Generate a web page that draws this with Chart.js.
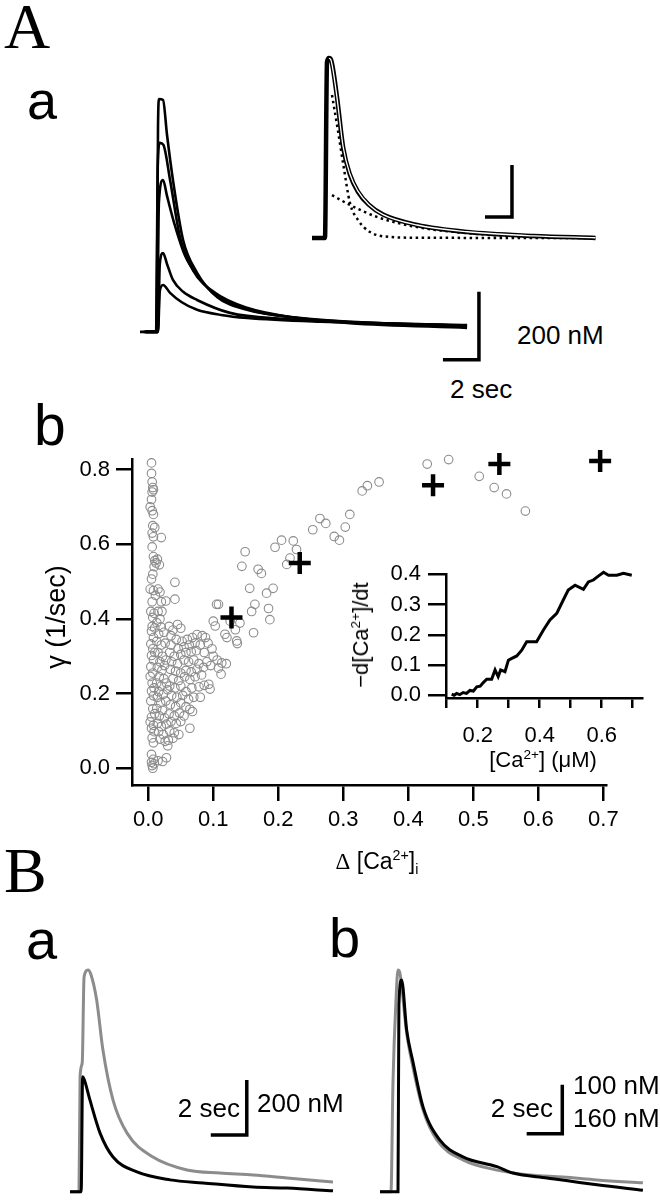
<!DOCTYPE html>
<html>
<head>
<meta charset="utf-8">
<script src="https://cdn.jsdelivr.net/npm/chart.js@4.4.1/dist/chart.umd.min.js"></script>
<style>
  html, body { margin: 0; padding: 0; background: #fff; }
  #figure { position: relative; width: 660px; height: 1200px; overflow: hidden;
            font-family: "Liberation Sans", Arial, sans-serif; color: #000; }
  #figure canvas { position: absolute; }
  .lbl { position: absolute; line-height: 1; white-space: nowrap; }
  .serif { font-family: "Liberation Serif", "Times New Roman", serif; }
  .rot { transform-origin: center; transform: translate(-50%, -50%) rotate(-90deg); }
  .ctr { transform: translate(-50%, -50%); }
  sup, sub { font-size: 0.62em; line-height: 0; }
</style>
</head>
<body>
<div id="figure">
  <canvas id="cvMain" width="360" height="290" style="left:131px;top:80px"></canvas>
  <canvas id="cvInsetA" width="310" height="230" style="left:300px;top:30px"></canvas>
  <canvas id="cvScatter" width="660" height="440" style="left:0px;top:440px"></canvas>
  <canvas id="cvInsetB" width="330" height="240" style="left:330px;top:540px"></canvas>
  <canvas id="cvBa" width="300" height="250" style="left:60px;top:950px"></canvas>
  <canvas id="cvBb" width="290" height="250" style="left:370px;top:950px"></canvas>

  <div class="lbl serif" style="left:4px;top:-5px;font-size:64px">A</div>
  <div class="lbl" style="left:27px;top:73px;font-size:54px">a</div>
  <div class="lbl" style="left:517px;top:322px;font-size:26px">200 nM</div>
  <div class="lbl" style="left:450px;top:376px;font-size:26px">2 sec</div>

  <div class="lbl" style="left:34px;top:397px;font-size:57px">b</div>
  <div class="lbl rot" style="left:56px;top:617px;font-size:27px">γ (1/sec)</div>
  <div class="lbl ctr" style="left:377px;top:861px;font-size:23px"><span class="serif">Δ</span> [Ca<sup>2+</sup>]<sub>i</sub></div>
  <div class="lbl rot" style="left:361px;top:635px;font-size:22px">−d[Ca<sup>2+</sup>]/dt</div>
  <div class="lbl ctr" style="left:543px;top:760px;font-size:22px">[Ca<sup>2+</sup>] (μM)</div>

  <div class="lbl serif" style="left:4px;top:839px;font-size:64px">B</div>
  <div class="lbl" style="left:26px;top:912px;font-size:56px">a</div>
  <div class="lbl" style="left:329px;top:910px;font-size:56px">b</div>
  <div class="lbl" style="right:420px;top:1095px;font-size:26px">2 sec</div>
  <div class="lbl" style="left:257px;top:1090px;font-size:26px">200 nM</div>
  <div class="lbl" style="right:107px;top:1095px;font-size:26px">2 sec</div>
  <div class="lbl" style="left:573px;top:1072px;font-size:26px">100 nM</div>
  <div class="lbl" style="left:573px;top:1105px;font-size:26px">160 nM</div>
</div>

<script>
// ---- A(a): [Ca2+]i transients, time (s) vs concentration (nM)
const traceA1 = [[0,0],[0.5,0],[0.92,0],[1.0,600],[1.06,685],[1.28,682],[1.5,580],[1.83,447],[2.39,271],[3.17,174],[4.28,103],[5.94,65],[8.72,41],[11.67,29],[14.4,21],[18.17,15]];
const traceA2 = [[0.2,0],[0.9,0],[0.98,480],[1.1,556],[1.3,550],[1.67,447],[2.22,279],[2.94,182],[4.17,115],[5.94,71],[8.72,41],[11.67,26],[18.17,12]];
const traceA3 = [[0.3,0],[0.95,0],[1.05,380],[1.28,447],[1.5,400],[1.9,320],[2.5,225],[3.3,158],[4.3,105],[6,66],[8.7,42],[11.7,30],[18.17,18]];
const traceA4 = [[0.3,0],[1.0,0],[1.1,200],[1.28,232],[1.5,200],[1.83,153],[2.4,118],[3.17,94],[5,56],[8,38],[12,28],[18.17,18]];
const traceA5 = [[0.3,0],[1.0,0],[1.1,120],[1.28,138],[1.67,115],[2.3,88],[3.17,65],[4.5,50],[5.94,41],[10,30],[18.17,20]];
const scaleBarA = [[16.83,-82],[18.83,-82],[18.83,118]];          // 2 sec / 200 nM

// inset: largest transient with biexponential fit and its two components
const insetData = [[0,0],[0.96,0],[1.11,677],[1.26,692],[1.41,685],[1.85,542],[2.3,350],[2.8,245],[3.4,178],[4.2,128],[5.26,90],[7.78,50],[11.5,23],[16.4,8],[21,0]];
const insetFit  = [[1.26,692],[1.41,683],[1.85,540],[2.3,352],[2.8,247],[3.4,180],[4.2,129],[5.26,90],[7.78,50],[11.5,24],[16.4,8],[21,1]];
const insetFast = [[1.48,550],[1.9,420],[2.3,288],[2.81,135],[3.41,69],[4.3,23],[5.78,4],[8,1],[21,0]];
const insetSlow = [[1.48,165],[2.81,127],[4.81,81],[7.78,42],[11.5,19],[16.4,4],[21,0]];
const scaleBarInset = [[12.81,81],[14.81,81],[14.81,281]];

// ---- A(b): decay rate vs amplitude
const gammaTicks = [0, 0.2, 0.4, 0.6, 0.8];
const caTicks = [0, 0.1, 0.2, 0.3, 0.4, 0.5, 0.6, 0.7];
const cellPoints = [
  [0.005,0.818],[0.005,0.79],[0.006,0.767],[0.007,0.752],[0.008,0.746],[0.006,0.74],[0.005,0.72],[0.003,0.70],[0.006,0.69],[0.008,0.68],
  [0.007,0.65],[0.01,0.645],[0.006,0.63],[0.008,0.62],[0.006,0.593],[0.008,0.567],[0.01,0.556],[0.012,0.55],[0.009,0.54],[0.007,0.52],
  [0.005,0.507],[0.003,0.48],[0.008,0.476],[0.011,0.463],[0.006,0.446],[0.004,0.42],[0.009,0.415],[0.007,0.404],[0.006,0.38],[0.01,0.376],
  [0.005,0.367],[0.008,0.35],[0.004,0.333],[0.007,0.32],[0.01,0.31],[0.005,0.302],[0.008,0.29],[0.004,0.272],[0.007,0.255],[0.003,0.246],
  [0.006,0.228],[0.009,0.215],[0.005,0.207],[0.008,0.194],[0.004,0.18],[0.007,0.159],[0.01,0.146],[0.005,0.137],[0.003,0.124],[0.008,0.115],
  [0.005,0.107],[0.009,0.098],[0.006,0.081],[0.008,0.068],[0.005,0.037],[0.008,0.024],[0.005,0.016],[0.009,0.012],[0.006,0.007],[0.007,0.0],
  [0.02,0.618],[0.014,0.56],[0.017,0.545],[0.015,0.48],[0.018,0.472],[0.02,0.446],[0.027,0.448],[0.015,0.42],[0.021,0.42],[0.018,0.40],
  [0.013,0.39],[0.02,0.378],[0.016,0.36],[0.024,0.364],[0.013,0.34],[0.02,0.33],[0.026,0.335],[0.015,0.31],[0.022,0.30],[0.018,0.285],
  [0.027,0.29],[0.014,0.27],[0.021,0.262],[0.025,0.275],[0.017,0.245],[0.024,0.24],[0.013,0.228],[0.02,0.22],[0.028,0.228],[0.016,0.205],
  [0.023,0.198],[0.03,0.21],[0.014,0.19],[0.019,0.175],[0.027,0.18],[0.013,0.16],[0.022,0.155],[0.017,0.14],[0.025,0.135],[0.014,0.12],
  [0.02,0.112],[0.028,0.118],[0.016,0.098],[0.023,0.09],[0.018,0.078],[0.026,0.072],[0.03,0.06],[0.015,0.02],[0.022,0.018],[0.028,0.028],
  [0.041,0.498],[0.041,0.453],[0.032,0.38],[0.038,0.37],[0.045,0.385],[0.05,0.375],[0.035,0.355],[0.043,0.345],[0.052,0.34],[0.06,0.345],
  [0.068,0.35],[0.075,0.358],[0.083,0.355],[0.088,0.35],[0.035,0.33],[0.046,0.32],[0.055,0.325],[0.063,0.33],[0.072,0.335],[0.08,0.33],
  [0.092,0.335],[0.098,0.32],[0.033,0.31],[0.04,0.30],[0.05,0.305],[0.058,0.31],[0.066,0.312],[0.074,0.315],[0.086,0.31],[0.1,0.30],
  [0.036,0.285],[0.045,0.28],[0.055,0.29],[0.062,0.285],[0.07,0.29],[0.078,0.28],[0.09,0.285],[0.106,0.29],[0.113,0.282],[0.12,0.28],
  [0.034,0.265],[0.042,0.26],[0.05,0.255],[0.058,0.262],[0.066,0.258],[0.075,0.265],[0.085,0.27],[0.096,0.275],[0.108,0.268],[0.112,0.252],
  [0.038,0.24],[0.047,0.235],[0.056,0.245],[0.064,0.238],[0.072,0.245],[0.082,0.25],[0.093,0.225],[0.095,0.212],[0.033,0.22],[0.041,0.215],
  [0.05,0.22],[0.058,0.205],[0.067,0.215],[0.078,0.218],[0.086,0.222],[0.036,0.195],[0.044,0.19],[0.053,0.195],[0.062,0.185],[0.07,0.19],
  [0.08,0.19],[0.034,0.17],[0.042,0.165],[0.05,0.175],[0.058,0.165],[0.064,0.158],[0.068,0.152],[0.032,0.145],[0.04,0.14],[0.048,0.148],
  [0.055,0.14],[0.035,0.125],[0.043,0.12],[0.05,0.125],[0.064,0.107],[0.033,0.1],[0.04,0.095],[0.047,0.09],[0.038,0.08],[0.031,0.075],
  [0.105,0.439],[0.108,0.439],[0.1,0.394],[0.103,0.381],[0.118,0.359],[0.121,0.35],[0.136,0.341],[0.137,0.334],[0.126,0.394],[0.141,0.389],
  [0.134,0.371],[0.149,0.58],[0.144,0.541],[0.156,0.482],[0.159,0.42],[0.164,0.439],[0.162,0.363],[0.169,0.533],[0.174,0.522],[0.182,0.469],
  [0.185,0.428],[0.187,0.398],[0.192,0.482],[0.195,0.592],[0.205,0.611],[0.213,0.546],[0.218,0.563],[0.223,0.609],[0.228,0.586],[0.253,0.639],
  [0.264,0.669],[0.273,0.656],[0.286,0.621],[0.294,0.611],[0.303,0.646],[0.31,0.68],[0.329,0.743],[0.337,0.757],[0.355,0.767],[0.429,0.815],
  [0.462,0.827],[0.509,0.782],[0.532,0.752],[0.551,0.735],[0.58,0.689]
];
const meanPoints = [[0.128,0.404],[0.233,0.55],[0.438,0.758],[0.54,0.815],[0.695,0.823]];

// inset of A(b): removal rate vs [Ca2+]
const rateTicksY = [0, 0.1, 0.2, 0.3, 0.4];
const rateTicksX = [0.1, 0.2, 0.3, 0.4, 0.5, 0.6, 0.7];
const removalCurve = [
  [0.116,0.004],[0.124,0.0],[0.132,0.006],[0.142,0.002],[0.153,0.009],[0.164,0.006],[0.175,0.016],[0.186,0.014],[0.197,0.028],[0.208,0.03],
  [0.218,0.042],[0.229,0.053],[0.245,0.053],[0.256,0.084],[0.266,0.062],[0.274,0.084],[0.288,0.078],[0.299,0.116],[0.31,0.122],[0.326,0.13],
  [0.342,0.149],[0.358,0.177],[0.374,0.177],[0.39,0.177],[0.412,0.216],[0.433,0.249],[0.455,0.271],[0.476,0.315],[0.492,0.348],[0.514,0.364],
  [0.541,0.35],[0.557,0.375],[0.573,0.381],[0.589,0.394],[0.606,0.407],[0.622,0.397],[0.649,0.397],[0.67,0.403],[0.697,0.397]
];

// ---- B: transients, control (black) vs test (grey)
const traceBaBlack = [[0,0],[0.62,0],[0.7,418],[0.78,410],[1.11,333],[1.67,213],[2.39,126],[3.72,72],[5.56,43],[7.39,32],[10.17,17],[12.06,13],[14.61,3]];
const traceBaGrey  = [[0,0],[0.5,0],[0.56,420],[0.68,470],[0.78,780],[1.0,806],[1.17,788],[1.48,697],[1.83,515],[2.39,333],[3.17,213],[4.61,126],[6.5,79],[8.33,68],[10.17,61],[12.06,50],[14.61,35]];
const scaleBarBa = [[7.82,206],[9.82,206],[9.82,406]];
const traceBbBlack = [[0,0],[1.0,0],[1.05,380],[1.2,432],[1.48,330],[1.83,265],[2.39,173],[3.33,105],[4.61,71],[6.5,51],[7.39,38],[9.28,28],[12.06,14],[14.61,3]];
const traceBbGrey  = [[0,0],[0.61,0],[0.72,221],[0.9,400],[1.0,452],[1.11,445],[1.48,324],[1.83,254],[2.39,167],[3.17,105],[4.61,65],[6.5,44],[8.33,34],[10.17,30],[12.06,24],[14.61,18]];
const scaleBarBb = [[8.15,118],[10.13,118],[10.13,218]];

const GREY = '#8c8c8c';
Chart.defaults.font.family = '"Liberation Sans", Arial, sans-serif';
Chart.defaults.color = '#000';

function toXY(arr) {
    return arr.map(p => ({ x: p[0], y: p[1] }));
}

function lineSet(arr, color, width, extra) {
    return Object.assign({
        data: toXY(arr),
        borderColor: color,
        borderWidth: width,
        pointRadius: 0,
        fill: false,
        cubicInterpolationMode: 'monotone',
        clip: false
    }, extra || {});
}

function barSet(arr) {
    return lineSet(arr, '#000', 3.5, { cubicInterpolationMode: 'default', tension: 0, borderCapStyle: 'butt' });
}

function traceOptions(xmin, xmax, ymin, ymax) {
    return {
        responsive: false,
        animation: false,
        events: [],
        layout: { padding: 0 },
        plugins: { legend: { display: false }, tooltip: { enabled: false } },
        scales: {
            x: { type: 'linear', min: xmin, max: xmax, display: false },
            y: { type: 'linear', min: ymin, max: ymax, display: false }
        }
    };
}

function axisStyle(tickLen, pad, list, fmt, fit) {
    return {
        type: 'linear',
        afterBuildTicks: s => { s.ticks = list.map(v => ({ value: v })); },
        afterFit: fit,
        ticks: { callback: fmt, font: { size: 22 }, color: '#000', padding: pad, maxRotation: 0, autoSkip: false },
        grid: { drawOnChartArea: false, drawTicks: true, tickLength: tickLen, lineWidth: 2.5, color: '#000' },
        border: { display: true, width: 2.5, color: '#000' }
    };
}

function drawTracesA() {
    new Chart(document.getElementById('cvMain'), {
        type: 'line',
        data: { datasets: [
            lineSet(traceA5, '#000', 2.6),
            lineSet(traceA4, '#000', 2.6),
            lineSet(traceA3, '#000', 2.6),
            lineSet(traceA2, '#000', 2.6),
            lineSet(traceA1, '#000', 2.6),
            barSet(scaleBarA)
        ] },
        options: traceOptions(-0.5, 19.5, -112, 741)
    });

    // first dataset is painted last: the pale fit sits inside the thick recorded trace
    new Chart(document.getElementById('cvInsetA'), {
        type: 'line',
        data: { datasets: [
            lineSet(insetFit, '#ffffff', 1.3),
            lineSet(insetData, '#000', 4.5),
            lineSet(insetFast, '#000', 2.5, { borderDash: [2.5, 3.5] }),
            lineSet(insetSlow, '#000', 2.5, { borderDash: [2.5, 3.5] }),
            barSet(scaleBarInset)
        ] },
        options: traceOptions(-0.89, 22.07, -84.6, 800)
    });
}

function drawScatter() {
    const opts = traceOptions(-0.025, 0.704, -0.045, 0.828);
    opts.layout = { padding: { left: 52, top: 10, right: 54, bottom: 0 } };
    opts.scales = {
        x: Object.assign(axisStyle(16, 6, caTicks, v => v.toFixed(1), s => { s.height = 95; }), { min: -0.025, max: 0.704 }),
        y: Object.assign(axisStyle(16, 6, gammaTicks, v => v.toFixed(1), s => { s.width = 80; }), { min: -0.045, max: 0.828 })
    };
    new Chart(document.getElementById('cvScatter'), {
        type: 'scatter',
        data: { datasets: [
            {
                data: toXY(meanPoints),
                pointStyle: 'cross',
                pointRadius: 11,
                pointBorderWidth: 4.5,
                pointBorderColor: '#000',
                borderColor: '#000',
                clip: false
            },
            {
                data: toXY(cellPoints),
                pointStyle: 'circle',
                pointRadius: 4.3,
                pointBorderWidth: 1.1,
                pointBorderColor: GREY,
                pointBackgroundColor: 'rgba(0,0,0,0)',
                borderColor: GREY,
                clip: false
            }
        ] },
        options: opts
    });

    const inOpts = traceOptions(0.0977, 0.73, -0.009, 0.401);
    inOpts.layout = { padding: { left: 56, top: 34, right: 18, bottom: 0 } };
    inOpts.scales = {
        x: Object.assign(axisStyle(10, 15, rateTicksX,
                v => (Math.round(v * 10) % 2 === 0 ? v.toFixed(1) : ''), s => { s.height = 82; }),
                { min: 0.0977, max: 0.73 }),
        y: Object.assign(axisStyle(18, 7, rateTicksY, v => v.toFixed(1), s => { s.width = 60; }),
                { min: -0.009, max: 0.401 })
    };
    new Chart(document.getElementById('cvInsetB'), {
        type: 'line',
        data: { datasets: [ lineSet(removalCurve, '#000', 3, { cubicInterpolationMode: 'default', tension: 0 }) ] },
        options: inOpts
    });
}

function drawTracesB() {
    new Chart(document.getElementById('cvBa'), {
        type: 'line',
        data: { datasets: [
            lineSet(traceBaBlack, '#000', 3),
            lineSet(traceBaGrey, GREY, 3),
            barSet(scaleBarBa)
        ] },
        options: traceOptions(-0.556, 16.11, -30.2, 879)
    });

    new Chart(document.getElementById('cvBb'), {
        type: 'line',
        data: { datasets: [
            lineSet(traceBbBlack, '#000', 3),
            lineSet(traceBbGrey, GREY, 3),
            barSet(scaleBarBb)
        ] },
        options: traceOptions(-0.556, 15.56, -17, 493)
    });
}

document.addEventListener('DOMContentLoaded', function() {
    drawTracesA();
    drawScatter();
    drawTracesB();
});
</script>
</body>
</html>
